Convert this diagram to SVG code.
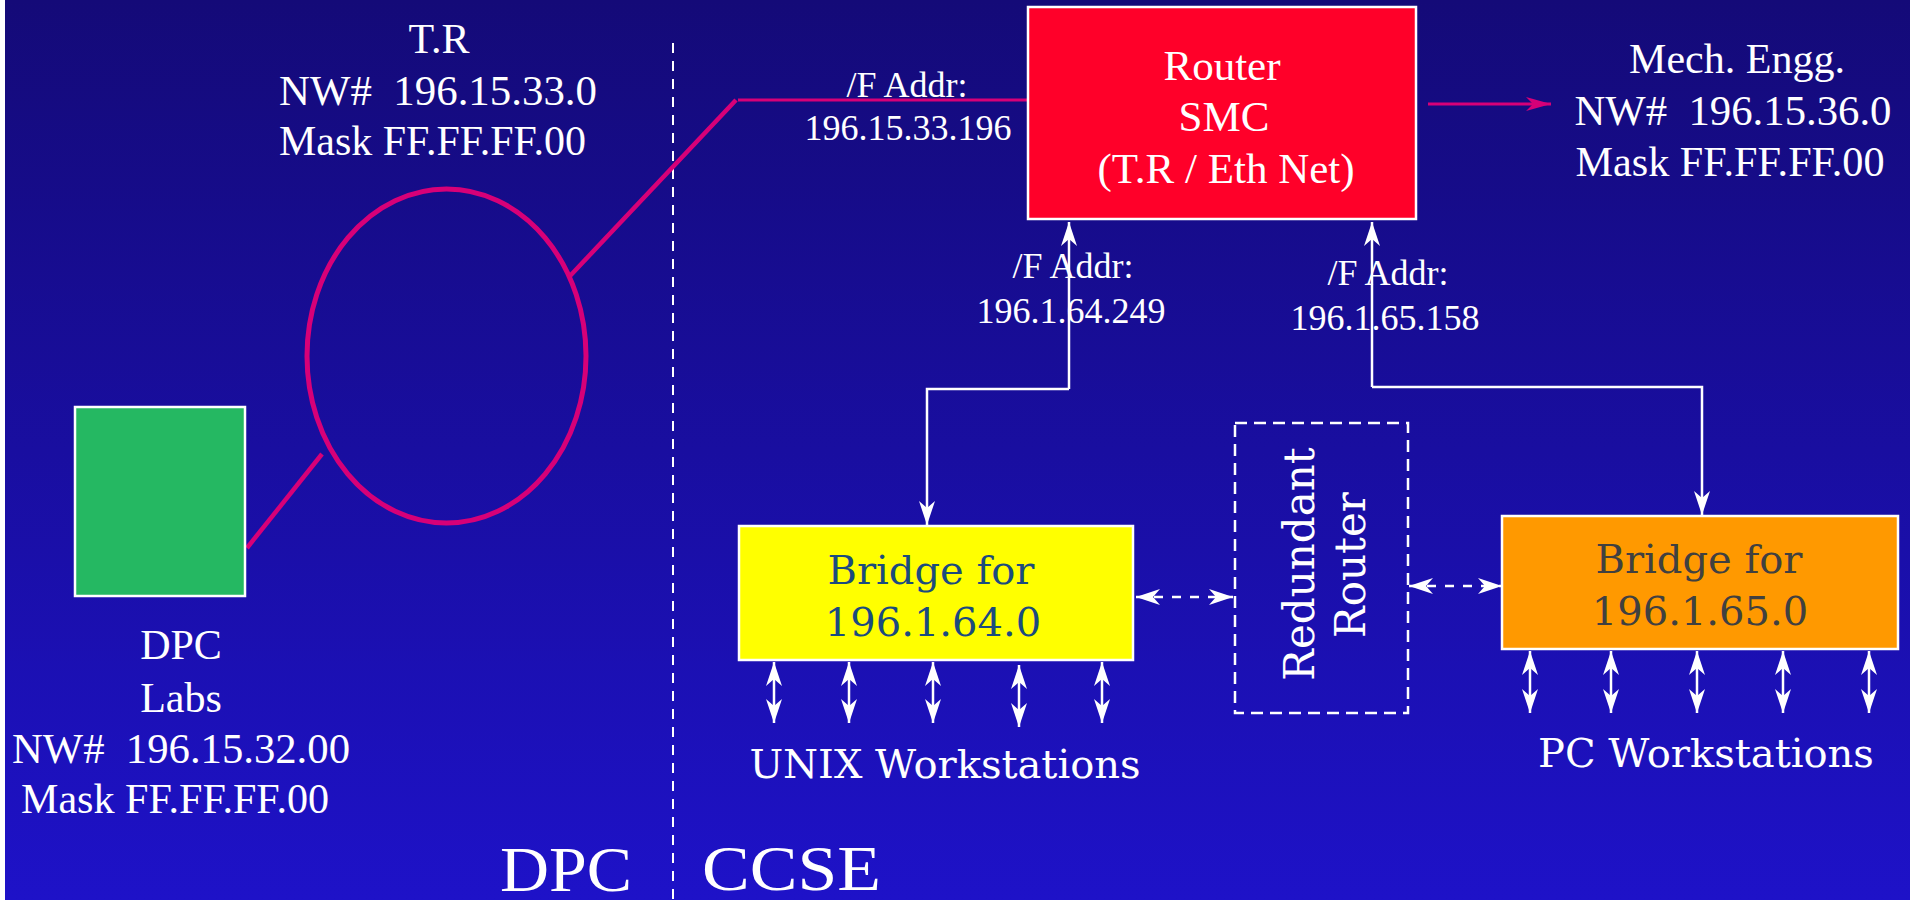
<svg xmlns="http://www.w3.org/2000/svg" width="1910" height="900" viewBox="0 0 1910 900">
  <defs>
    <linearGradient id="bg" x1="0" y1="0" x2="0" y2="1">
      <stop offset="0" stop-color="#140A78"/>
      <stop offset="1" stop-color="#1E12C8"/>
    </linearGradient>
    <marker id="head" markerUnits="userSpaceOnUse" markerWidth="30" markerHeight="20" viewBox="-26 -10 28 20" refX="0" refY="0" orient="auto-start-reverse">
      <path d="M0,0 L-24,-8 L-17,0 L-24,8 Z" fill="#FFFFFF"/>
    </marker>
    <marker id="head-mag" markerUnits="userSpaceOnUse" markerWidth="30" markerHeight="20" viewBox="-26 -10 28 20" refX="0" refY="0" orient="auto">
      <path d="M0,0 L-25,-7 L-18,0 L-25,7 Z" fill="#D70078"/>
    </marker>
  </defs>
  <style>
    .tm { font-family: "Liberation Serif", "Times New Roman", serif; fill: #FFFFFF; }
    .dv { font-family: "DejaVu Serif", serif; }
    .mid { text-anchor: middle; }
    .box { stroke: #FFFFFF; stroke-width: 2.5; }
    .wire { fill: none; stroke: #FFFFFF; stroke-width: 2.5; }
    .dash { fill: none; stroke: #FFFFFF; stroke-width: 2.5; stroke-dasharray: 9 9; }
    .ring { fill: none; stroke: #D70078; }
  </style>

  <!-- backdrop -->
  <rect x="0" y="0" width="1910" height="900" fill="url(#bg)"/>
  <rect x="0" y="0" width="5" height="900" fill="#FFFFFF"/>

  <!-- DPC / CCSE boundary -->
  <line x1="673" y1="43" x2="673" y2="900" stroke="#FFFFFF" stroke-width="2" stroke-dasharray="10 8"/>
  <text class="tm" x="500" y="891" font-size="64" textLength="132" lengthAdjust="spacingAndGlyphs">DPC</text>
  <text class="tm" x="702" y="890" font-size="64" textLength="179" lengthAdjust="spacingAndGlyphs">CCSE</text>

  <!-- connectors -->
  <g id="connectors">
    <line class="ring" x1="247" y1="548" x2="322" y2="454" stroke-width="4.5"/>
    <line class="ring" x1="569" y1="277" x2="736" y2="100" stroke-width="4.5"/>
    <line class="ring" x1="738" y1="100" x2="1028" y2="100" stroke-width="3"/>
    <line class="ring" x1="1428" y1="104" x2="1551" y2="104" stroke-width="3" marker-end="url(#head-mag)"/>

    <line class="wire" x1="1069" y1="389" x2="1069" y2="222" marker-end="url(#head)"/>
    <path class="wire" d="M1069,389 H927 V525" marker-end="url(#head)"/>
    <line class="wire" x1="1372" y1="387" x2="1372" y2="222" marker-end="url(#head)"/>
    <path class="wire" d="M1372,387 H1702 V515" marker-end="url(#head)"/>

    <line class="dash" x1="1136" y1="597" x2="1233" y2="597" marker-start="url(#head)" marker-end="url(#head)"/>
    <line class="dash" x1="1409" y1="586" x2="1502" y2="586" marker-start="url(#head)" marker-end="url(#head)"/>

    <line class="wire" x1="774" y1="662" x2="774" y2="723" marker-start="url(#head)" marker-end="url(#head)"/>
    <line class="wire" x1="849" y1="662" x2="849" y2="723" marker-start="url(#head)" marker-end="url(#head)"/>
    <line class="wire" x1="933" y1="662" x2="933" y2="723" marker-start="url(#head)" marker-end="url(#head)"/>
    <line class="wire" x1="1019" y1="665" x2="1019" y2="727" marker-start="url(#head)" marker-end="url(#head)"/>
    <line class="wire" x1="1102" y1="662" x2="1102" y2="723" marker-start="url(#head)" marker-end="url(#head)"/>

    <line class="wire" x1="1530" y1="651" x2="1530" y2="713" marker-start="url(#head)" marker-end="url(#head)"/>
    <line class="wire" x1="1611" y1="651" x2="1611" y2="713" marker-start="url(#head)" marker-end="url(#head)"/>
    <line class="wire" x1="1697" y1="651" x2="1697" y2="713" marker-start="url(#head)" marker-end="url(#head)"/>
    <line class="wire" x1="1783" y1="651" x2="1783" y2="713" marker-start="url(#head)" marker-end="url(#head)"/>
    <line class="wire" x1="1869" y1="651" x2="1869" y2="713" marker-start="url(#head)" marker-end="url(#head)"/>
  </g>

  <!-- token ring -->
  <g id="token-ring">
    <ellipse class="ring" cx="446.5" cy="356" rx="139.5" ry="167" stroke-width="5"/>
    <text class="tm mid" x="439" y="53" font-size="42">T.R</text>
    <text class="tm" x="279" y="105" font-size="42" xml:space="preserve" textLength="318" lengthAdjust="spacingAndGlyphs">NW#  196.15.33.0</text>
    <text class="tm" x="279" y="155" font-size="42" textLength="307" lengthAdjust="spacingAndGlyphs">Mask FF.FF.FF.00</text>
  </g>

  <!-- DPC labs -->
  <g id="dpc-labs">
    <rect class="box" x="75" y="407" width="170" height="189" fill="#25B862"/>
    <text class="tm mid" x="181" y="659" font-size="42">DPC</text>
    <text class="tm mid" x="181" y="712" font-size="42">Labs</text>
    <text class="tm" x="12" y="763" font-size="42" xml:space="preserve" textLength="338" lengthAdjust="spacingAndGlyphs">NW#  196.15.32.00</text>
    <text class="tm" x="21" y="813" font-size="42" textLength="308" lengthAdjust="spacingAndGlyphs">Mask FF.FF.FF.00</text>
  </g>

  <!-- SMC router -->
  <g id="router">
    <rect class="box" x="1028" y="7" width="388" height="212" fill="#FF0029"/>
    <text class="tm mid" x="1222" y="80" font-size="43">Router</text>
    <text class="tm mid" x="1224" y="131" font-size="43">SMC</text>
    <text class="tm mid" x="1226" y="183" font-size="43">(T.R / Eth Net)</text>
  </g>

  <!-- interface addresses -->
  <g id="if-tr">
    <text class="tm mid" x="907" y="97" font-size="36">/F Addr:</text>
    <text class="tm mid" x="908" y="140" font-size="36">196.15.33.196</text>
  </g>
  <g id="if-64">
    <text class="tm mid" x="1073" y="278" font-size="36">/F Addr:</text>
    <text class="tm mid" x="1071" y="323" font-size="36">196.1.64.249</text>
  </g>
  <g id="if-65">
    <text class="tm mid" x="1388" y="285" font-size="36">/F Addr:</text>
    <text class="tm mid" x="1385" y="330" font-size="36">196.1.65.158</text>
  </g>

  <!-- mechanical engineering network -->
  <g id="mech-engg">
    <text class="tm mid" x="1737" y="73" font-size="42">Mech. Engg.</text>
    <text class="tm mid" x="1733" y="125" font-size="42" xml:space="preserve" textLength="317" lengthAdjust="spacingAndGlyphs">NW#  196.15.36.0</text>
    <text class="tm mid" x="1730" y="176" font-size="42" textLength="309" lengthAdjust="spacingAndGlyphs">Mask FF.FF.FF.00</text>
  </g>

  <!-- bridge 196.1.64.0 -->
  <g id="bridge-64">
    <rect class="box" x="739" y="526" width="394" height="134" fill="#FFFF00"/>
    <text class="dv mid" x="931" y="584" font-size="40" fill="#1B4B7E">Bridge for</text>
    <text class="dv mid" x="933" y="636" font-size="40" fill="#1B4B7E">196.1.64.0</text>
    <text class="dv mid" x="945" y="778" font-size="40" fill="#FFFFFF">UNIX Workstations</text>
  </g>

  <!-- redundant router -->
  <g id="redundant-router">
    <rect x="1235" y="423" width="173" height="290" fill="none" stroke="#FFFFFF" stroke-width="2.5" stroke-dasharray="12 7"/>
    <text class="dv mid" transform="translate(1314,564) rotate(-90)" font-size="42" fill="#FFFFFF">Redundant</text>
    <text class="dv mid" transform="translate(1365,565) rotate(-90)" font-size="42" fill="#FFFFFF">Router</text>
  </g>

  <!-- bridge 196.1.65.0 -->
  <g id="bridge-65">
    <rect class="box" x="1502" y="516" width="396" height="133" fill="#FF9900"/>
    <text class="dv mid" x="1699" y="573" font-size="40" fill="#404040">Bridge for</text>
    <text class="dv mid" x="1700" y="625" font-size="40" fill="#404040">196.1.65.0</text>
    <text class="dv mid" x="1706" y="767" font-size="40" fill="#FFFFFF">PC Workstations</text>
  </g>
</svg>
